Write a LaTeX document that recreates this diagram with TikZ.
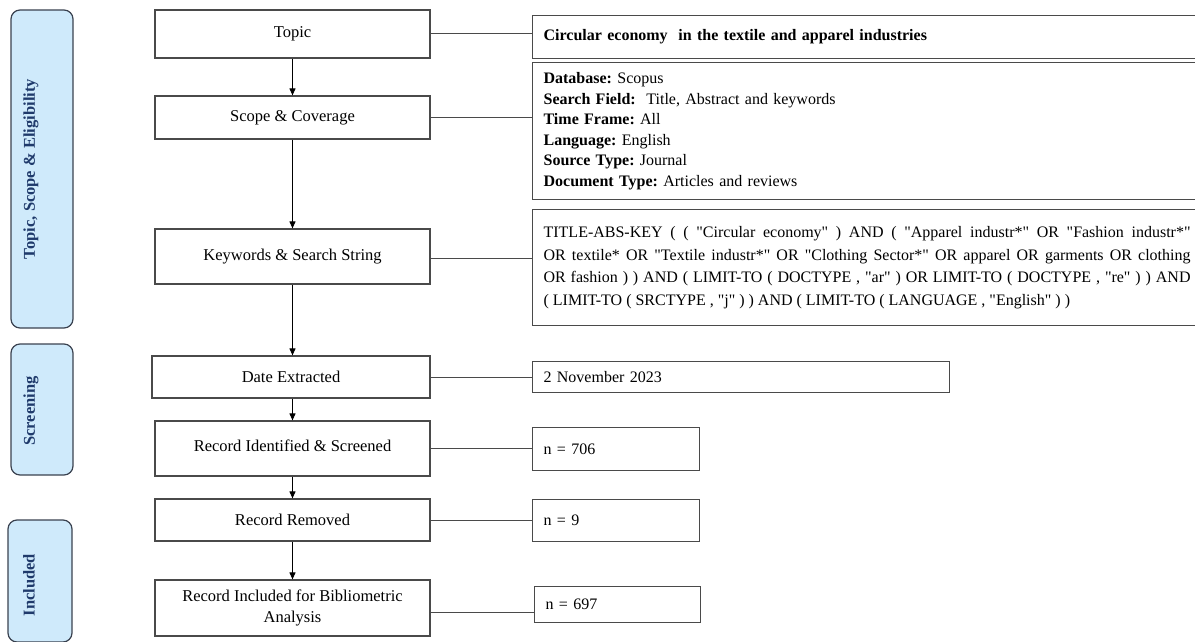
\documentclass[tikz,border=0pt]{standalone}
\usepackage{fontspec}
\setmainfont{Liberation Serif}[Ligatures=TeXOff]
\frenchspacing
\usetikzlibrary{arrows.meta}
\definecolor{bandfill}{HTML}{CFEAFB}
\definecolor{bandtext}{HTML}{1F3A6B}
\definecolor{bandline}{HTML}{3A4250}
\definecolor{boxline}{HTML}{4A4A4A}
\tikzset{
  band/.style={draw=bandline, line width=1.2pt, fill=bandfill, rounded corners=9pt},
  bandlabel/.style={rotate=90, text=bandtext, font=\fontsize{16.5}{18}\selectfont\bfseries, inner sep=0pt},
  stepbox/.style={draw=boxline, line width=1.2pt, fill=white, minimum width=275pt, align=center, inner sep=2pt, font=\fontsize{16.5}{22}\selectfont},
  infobox/.style={draw=boxline, line width=1.2pt, fill=white, anchor=north west, align=left, inner xsep=11pt, inner ysep=0pt, font=\fontsize{16}{21}\selectfont},
  link/.style={draw=boxline, line width=1pt},
  flow/.style={draw=black, line width=1pt, -{Triangle[length=7pt,width=6pt]}}
}
\begin{document}
\begin{tikzpicture}[x=1pt,y=-1pt]
\useasboundingbox (0,0) rectangle (1195,642);
% bands
\node[band, minimum width=62pt, minimum height=318pt] (b1) at (42,169) {};
\node[bandlabel] (b1t) at (31,169) {Topic, Scope \& Eligibility};
\node[band, minimum width=62pt, minimum height=131pt] (b2) at (42,409.5) {};
\node[bandlabel] (b2t) at (31,411) {Screening};
\node[band, minimum width=64pt, minimum height=122pt] (b3) at (40,581) {};
\node[bandlabel] (b3t) at (29,585) {Included};
% step boxes
\node[stepbox, minimum height=48pt] (topic) at (292.5,34) {Topic};
\node[stepbox, minimum height=43pt] (scope) at (292.5,117.5) {Scope \& Coverage};
\node[stepbox, minimum height=55pt] (kw) at (292.5,256.5) {Keywords \& Search String};
\node[stepbox, minimum height=42pt, minimum width=278pt] (date) at (291,377) {Date Extracted};
\node[stepbox, minimum height=55pt] (rid) at (292.5,448.5) {\raisebox{5pt}{Record Identified \& Screened}};
\node[stepbox, minimum height=56pt] (rinc) at (292.5,608) {\raisebox{-3pt}{\begin{tabular}{c}Record Included for Bibliometric\\[-1pt] Analysis\end{tabular}}};
\node[stepbox, minimum height=42pt] (rrem) at (292.5,520) {Record Removed};
% info boxes
\node[infobox, minimum height=43pt, text width=646pt] (circ) at (532,15) {\bfseries Circular economy\ \ in the textile and apparel industries};
\node[infobox, minimum height=137pt, text width=646pt, font=\fontsize{16}{20.6}\selectfont] (scopeinfo) at (532,62) {\textbf{Database:} Scopus\\
\textbf{Search Field:}\ \ Title, Abstract and keywords\\
\textbf{Time Frame:} All\\
\textbf{Language:} English\\
\textbf{Source Type:} Journal\\
\textbf{Document Type:} Articles and reviews};
\node[infobox, minimum height=116pt, text width=647pt, align=justify, font=\fontsize{16}{22.7}\selectfont] (kwinfo) at (532,209) {TITLE-ABS-KEY ( ( "Circular economy" ) AND ( "Apparel industr*" OR "Fashion industr*" \linebreak
OR textile* OR "Textile industr*" OR "Clothing Sector*" OR apparel OR garments OR clothing \linebreak
OR fashion ) ) AND ( LIMIT-TO ( DOCTYPE , "ar" ) OR LIMIT-TO ( DOCTYPE , "re" ) ) AND \linebreak
( LIMIT-TO ( SRCTYPE , "j" ) ) AND ( LIMIT-TO ( LANGUAGE , "English" ) )};
\node[infobox, minimum height=31pt, text width=395pt] (dateinfo) at (532,361) {\raisebox{-5pt}{2 November 2023}};
\node[infobox, minimum height=43pt, text width=145pt] (n706) at (532,427) {n = 706};
\node[infobox, minimum height=42pt, text width=145pt] (n9) at (532,499) {n = 9};
\node[infobox, minimum height=36pt, text width=144pt] (n697) at (534,586) {\raisebox{-2pt}{n = 697}};
% links
\draw[link] (topic.east) -- (topic.east -| circ.west);
\draw[link] (scope.east) -- (scope.east -| scopeinfo.west);
\draw[link] ([yshift=-1.5pt]kw.east) -- ([yshift=-1.5pt]kw.east -| kwinfo.west);
\draw[link] (date.east) -- (date.east -| dateinfo.west);
\draw[link] (rid.east) -- (rid.east -| n706.west);
\draw[link] (rrem.east) -- (rrem.east -| n9.west);
\draw[link] ([yshift=-4pt]rinc.east) -- ([yshift=-4pt]rinc.east -| n697.west);
% flow arrows
\draw[flow] (topic.south) -- (scope.north);
\draw[flow] (scope.south) -- (kw.north);
\draw[flow] (kw.south) -- (kw.south |- date.north);
\draw[flow] (date.south -| rid.north) -- (rid.north);
\draw[flow] (rid.south) -- (rrem.north);
\draw[flow] (rrem.south) -- (rinc.north);
\end{tikzpicture}
\end{document}
